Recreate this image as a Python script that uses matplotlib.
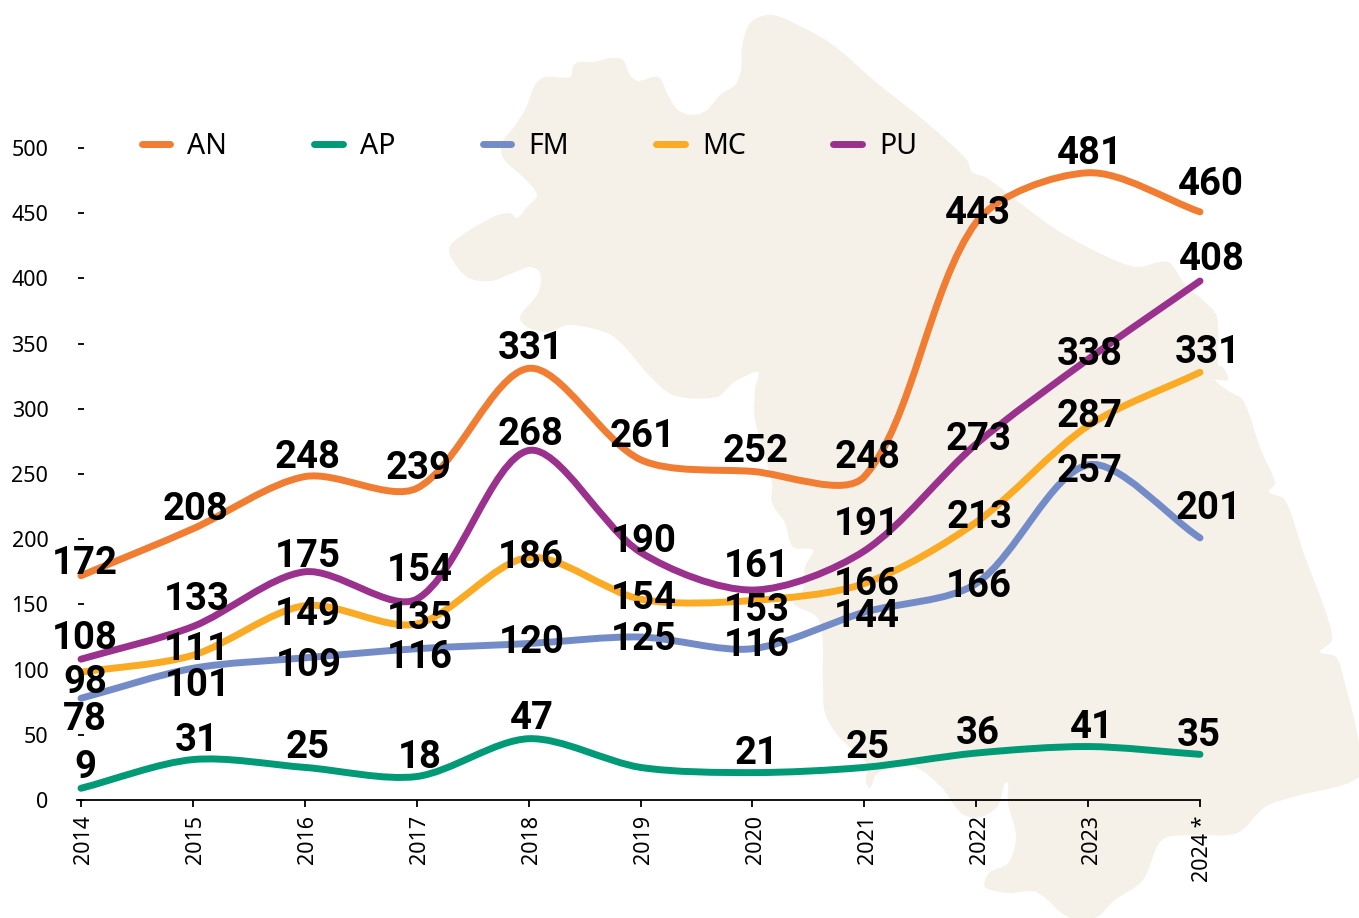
import math
import matplotlib
matplotlib.use("Agg")
import matplotlib.pyplot as plt
from matplotlib.path import Path
from matplotlib.patches import PathPatch
from matplotlib.lines import Line2D
from matplotlib.transforms import ScaledTranslation

W, H = 1359, 918

years = ["2014", "2015", "2016", "2017", "2018", "2019", "2020", "2021", "2022", "2023", "2024 *"]
y_ticks = [0, 50, 100, 150, 200, 250, 300, 350, 400, 450, 500]
names = ["AN", "AP", "FM", "MC", "PU"]
colors = ["#f07d32", "#009a76", "#738cc8", "#fbaa23", "#9a318c"]

# values as the lines run
an = [172, 208, 248, 239, 331, 261, 252, 248, 443, 481, 451]
ap = [9, 31, 25, 18, 47, 25, 21, 25, 36, 41, 35]
fm = [78, 101, 109, 116, 120, 125, 116, 144, 166, 257, 201]
mc = [98, 111, 149, 135, 186, 154, 153, 166, 213, 287, 328]
pu = [108, 133, 175, 154, 268, 190, 161, 191, 273, 338, 398]

# printed numbers, not always the same as the line end
an_txt = ["172", "208", "248", "239", "331", "261", "252", "248", "443", "481", "460"]
ap_txt = ["9", "31", "25", "18", "47", "", "21", "25", "36", "41", "35"]
fm_txt = ["78", "101", "109", "116", "120", "125", "116", "144", "166", "257", "201"]
mc_txt = ["98", "111", "149", "135", "186", "154", "153", "166", "213", "287", "331"]
pu_txt = ["108", "133", "175", "154", "268", "190", "161", "191", "273", "338", "408"]

# label offsets in pixels
an_dx = [4, 3, 3, 2, 2, 2, 3, 3, 2, 2, 11]
an_dy = [15, 22, 22, 22, 22, 26, 22, 22, 11, 22, 30]
ap_dx = [4, 4, 3, 3, 3, 0, 4, 3, 2, 4, -1]
ap_dy = [23, 22, 22, 22, 23, 0, 22, 22, 22, 22, 21]
fm_dx = [4, 5, 4, 3, 3, 3, 4, 3, 3, 2, 9]
fm_dy = [-19, -15, -5, -6, 4, 0, 6, -2, 0, -4, 32]
mc_dx = [4, 4, 3, 3, 2, 3, 4, 3, 3, 2, 8]
mc_dy = [-8, 8, -6, 8, 2, 3, -8, 2, 7, 12, 22]
pu_dx = [4, 4, 3, 3, 2, 3, 4, 3, 2, 2, 12]
pu_dy = [23, 30, 18, 31, 19, 13, 26, 29, 7, 7, 24]

# background map outline, image pixels
map_outline = [
    (767, 15), (750, 23), (742, 47), (741, 70), (735, 85), (720, 95), (707, 110), (693, 115),
    (678, 110), (668, 95), (660, 78), (653, 77), (638, 81), (630, 75), (623, 60), (612, 58),
    (593, 62), (578, 62), (573, 67), (570, 77), (545, 77), (535, 85), (525, 110), (513, 128),
    (502, 143), (503, 158), (523, 177), (537, 195), (527, 207), (517, 218), (510, 213), (493, 217),
    (452, 243), (450, 255), (467, 277), (490, 281), (513, 273), (530, 267), (540, 273), (538, 293),
    (520, 317), (527, 327), (547, 332), (570, 325), (607, 333), (623, 345), (647, 373), (673, 395),
    (717, 397), (733, 383), (758, 372), (755, 390), (755, 420), (772, 483), (772, 503), (785, 523),
    (793, 547), (813, 550), (805, 567), (803, 590), (793, 603), (819, 620), (823, 683), (825, 713),
    (839, 737), (866, 763), (866, 783), (870, 788), (878, 773), (914, 767), (941, 787), (961, 813),
    (977, 818), (997, 807), (1005, 783), (1008, 783), (1008, 803), (1016, 837), (1008, 863), (989, 873),
    (985, 887), (1008, 893), (1036, 892), (1068, 917), (1095, 918), (1115, 900), (1143, 880), (1162, 840),
    (1194, 835), (1237, 833), (1265, 807), (1293, 797), (1359, 777), (1359, 743), (1344, 680), (1336, 657),
    (1320, 652), (1332, 640), (1324, 607), (1305, 557), (1285, 500), (1269, 492), (1275, 483), (1261, 450),
    (1243, 400), (1230, 392), (1215, 380), (1228, 380), (1223, 367), (1218, 365), (1217, 317), (1203, 300),
    (1187, 287), (1170, 263), (1160, 262), (1137, 267), (1110, 258), (1060, 232), (1020, 203), (987, 178),
    (972, 172), (967, 160), (927, 123), (877, 83), (830, 43), (783, 18),
]


def smooth_path(pts, s=0.3, closed=False, sx=1.0, sy=1.0):
    # spline with handles split by segment length, lengths measured on screen
    n = len(pts)
    left = [None] * n
    right = [None] * n
    for i in range(n):
        p = pts[i]
        if closed:
            a, b = pts[i - 1], pts[(i + 1) % n]
        else:
            a, b = pts[max(i - 1, 0)], pts[min(i + 1, n - 1)]
        d0 = math.hypot((p[0] - a[0]) * sx, (p[1] - a[1]) * sy)
        d1 = math.hypot((b[0] - p[0]) * sx, (b[1] - p[1]) * sy)
        r = d1 / (d0 + d1)
        vx, vy = (b[0] - a[0]) * s, (b[1] - a[1]) * s
        left[i] = (p[0] - vx * (1 - r), p[1] - vy * (1 - r))
        right[i] = (p[0] + vx * r, p[1] + vy * r)
    verts = [pts[0]]
    codes = [Path.MOVETO]
    for i in range(n if closed else n - 1):
        j = (i + 1) % n
        verts += [right[i], left[j], pts[j]]
        codes += [Path.CURVE4, Path.CURVE4, Path.CURVE4]
    return Path(verts, codes)


plt.rcParams["font.family"] = ["Noto Sans", "DejaVu Sans"]
label_font = ["Roboto", "DejaVu Sans"]

fig = plt.figure(figsize=(W / 100, H / 100), dpi=100)

bg = fig.add_axes([0, 0, 1, 1], zorder=0)
bg.set_xlim(0, W)
bg.set_ylim(H, 0)
bg.axis("off")
bg.add_patch(PathPatch(smooth_path(map_outline, s=0.33, closed=True), fc="#f5f1e8", ec="none"))

ax = fig.add_axes([81 / W, (H - 800) / H, 1119 / W, 652 / H], zorder=1)
ax.patch.set_alpha(0)
ax.set_xlim(0, 10)
ax.set_ylim(0, 500)

for s in ["top", "right", "left"]:
    ax.spines[s].set_visible(False)
ax.spines["bottom"].set_linewidth(1.3)
ax.spines["bottom"].set_bounds(-0.04, 10)

ax.set_xticks(range(len(years)))
ax.set_xticklabels(years, rotation=90, fontsize=15.5)
ax.set_yticks(y_ticks)
ax.set_yticklabels([str(v) for v in y_ticks], fontsize=15.5)
ax.tick_params(axis="x", length=5, width=1.3, pad=6)
ax.tick_params(axis="y", direction="inout", length=5, width=1.3, pad=21)
for lbl in ax.get_xticklabels():
    lbl.set_transform(lbl.get_transform() + ScaledTranslation(3 / 100, 0, fig.dpi_scale_trans))

series = [
    (an, an_txt, an_dx, an_dy),
    (ap, ap_txt, ap_dx, ap_dy),
    (fm, fm_txt, fm_dx, fm_dy),
    (mc, mc_txt, mc_dx, mc_dy),
    (pu, pu_txt, pu_dx, pu_dy),
]

handles = []
for (vals, txts, dxs, dys), name, col in zip(series, names, colors):
    pts = list(zip(range(len(vals)), vals))
    ax.add_patch(PathPatch(smooth_path(pts, sx=111.9, sy=1.304), fc="none", ec=col, lw=5,
                           capstyle="round", joinstyle="round", clip_on=False, zorder=3))
    handles.append(Line2D([], [], color=col, lw=5, solid_capstyle="round", label=name))

for vals, txts, dxs, dys in series:
    for i, v in enumerate(vals):
        if txts[i] == "":
            continue
        ax.annotate(txts[i], (i, v), xytext=(dxs[i], dys[i] + 1.5), textcoords="offset pixels",
                    ha="center", va="center_baseline", fontsize=27.5, fontweight="bold",
                    family=label_font, color="black", zorder=5, annotation_clip=False)

fs = 20.5
leg = ax.legend(handles=handles, ncols=5, frameon=False, fontsize=fs, loc="center left",
                bbox_to_anchor=(60.5 / 1119, (800 - 146) / 652), borderpad=0, borderaxespad=0,
                handlelength=1.0, handletextpad=0.6, columnspacing=3.07)
for t in leg.get_texts():
    t.set_color("black")

fig.savefig("out.png", dpi=100)
